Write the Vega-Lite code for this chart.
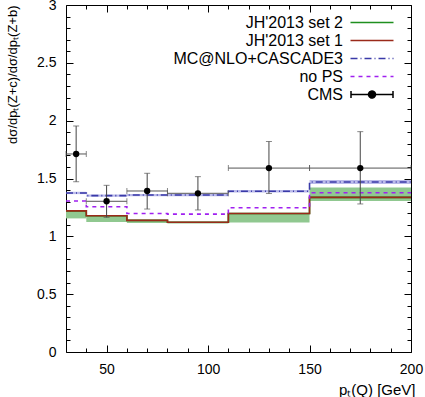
{
  "$schema": "https://vega.github.io/schema/vega-lite/v6.json",
  "width": 345,
  "height": 347,
  "autosize": {"type": "none"},
  "padding": {"left": 66, "top": 5, "right": 14, "bottom": 45},
  "config": {
    "view": {"stroke": "black", "strokeWidth": 1},
    "font": "Liberation Sans",
    "axis": {"grid": false, "domain": false, "labelFont": "Liberation Sans", "labelFontSize": 14, "labelColor": "black", "tickColor": "black", "titleFont": "Liberation Sans", "titleFontSize": 15, "titleFontWeight": "normal", "titleColor": "black", "labelOverlap": false, "labelFlush": false}
  },
  "datasets": {
    "bins": [
      {"series": "JH'2013 set 2", "x1": 30, "x2": 40, "y": 1.22, "lo": 1.155, "hi": 1.22},
      {"series": "JH'2013 set 2", "x1": 40, "x2": 60, "y": 1.178, "lo": 1.124, "hi": 1.178},
      {"series": "JH'2013 set 2", "x1": 60, "x2": 80, "y": 1.138, "lo": 1.115, "hi": 1.14},
      {"series": "JH'2013 set 2", "x1": 80, "x2": 110, "y": 1.122, "lo": 1.11, "hi": 1.125},
      {"series": "JH'2013 set 2", "x1": 110, "x2": 150, "y": 1.198, "lo": 1.12, "hi": 1.198},
      {"series": "JH'2013 set 2", "x1": 150, "x2": 200, "y": 1.337, "lo": 1.305, "hi": 1.423},
      {"series": "JH'2013 set 1", "x1": 30, "x2": 40, "y": 1.22},
      {"series": "JH'2013 set 1", "x1": 40, "x2": 60, "y": 1.178},
      {"series": "JH'2013 set 1", "x1": 60, "x2": 80, "y": 1.138},
      {"series": "JH'2013 set 1", "x1": 80, "x2": 110, "y": 1.122},
      {"series": "JH'2013 set 1", "x1": 110, "x2": 150, "y": 1.198},
      {"series": "JH'2013 set 1", "x1": 150, "x2": 200, "y": 1.337},
      {"series": "MC@NLO+CASCADE3", "x1": 30, "x2": 40, "y": 1.375, "lo": 1.365, "hi": 1.385},
      {"series": "MC@NLO+CASCADE3", "x1": 40, "x2": 60, "y": 1.352, "lo": 1.342, "hi": 1.362},
      {"series": "MC@NLO+CASCADE3", "x1": 60, "x2": 80, "y": 1.357, "lo": 1.347, "hi": 1.367},
      {"series": "MC@NLO+CASCADE3", "x1": 80, "x2": 110, "y": 1.357, "lo": 1.347, "hi": 1.367},
      {"series": "MC@NLO+CASCADE3", "x1": 110, "x2": 150, "y": 1.39, "lo": 1.38, "hi": 1.4},
      {"series": "MC@NLO+CASCADE3", "x1": 150, "x2": 200, "y": 1.47, "lo": 1.452, "hi": 1.487},
      {"series": "no PS", "x1": 30, "x2": 40, "y": 1.305},
      {"series": "no PS", "x1": 40, "x2": 60, "y": 1.256},
      {"series": "no PS", "x1": 60, "x2": 80, "y": 1.198},
      {"series": "no PS", "x1": 80, "x2": 110, "y": 1.192},
      {"series": "no PS", "x1": 110, "x2": 150, "y": 1.247},
      {"series": "no PS", "x1": 150, "x2": 200, "y": 1.377}
    ],
    "cms": [
      {"series": "CMS", "x": 35, "xlo": 30, "xhi": 40, "y": 1.712, "lo": 1.472, "hi": 1.954},
      {"series": "CMS", "x": 50, "xlo": 40, "xhi": 60, "y": 1.303, "lo": 1.164, "hi": 1.441},
      {"series": "CMS", "x": 70, "xlo": 60, "xhi": 80, "y": 1.392, "lo": 1.236, "hi": 1.545},
      {"series": "CMS", "x": 95, "xlo": 80, "xhi": 110, "y": 1.372, "lo": 1.228, "hi": 1.516},
      {"series": "CMS", "x": 130, "xlo": 110, "xhi": 150, "y": 1.59, "lo": 1.37, "hi": 1.82},
      {"series": "CMS", "x": 175, "xlo": 150, "xhi": 200, "y": 1.59, "lo": 1.28, "hi": 1.905}
    ]
  },
  "resolve": {"axis": {"x": "independent", "y": "independent"}},
  "layer": [
    {
      "data": {"name": "bins"},
      "transform": [{"filter": "datum.series === \"JH'2013 set 2\""}],
      "mark": {"type": "rect", "color": "#90c890"},
      "encoding": {
        "x": {"field": "x1", "type": "quantitative", "scale": {"domain": [30, 200], "nice": false, "zero": false},
          "axis": {"orient": "bottom", "values": [40, 50, 60, 70, 80, 90, 100, 110, 120, 130, 140, 150, 160, 170, 180, 190, 200],
            "labelExpr": "datum.value % 50 === 0 ? datum.label : ''",
            "tickSize": {"condition": {"test": "datum.value % 50 === 0", "value": -7}, "value": -4},
            "labelPadding": 17,
            "title": "pₜ(Q) [GeV]", "titleX": 349, "titleY": 42, "titleAlign": "right", "titleBaseline": "alphabetic", "titleAnchor": "end"}},
        "x2": {"field": "x2"},
        "y": {"field": "lo", "type": "quantitative", "scale": {"domain": [0, 3], "nice": false, "zero": false},
          "axis": {"orient": "left", "values": [0, 0.1, 0.2, 0.3, 0.4, 0.5, 0.6, 0.7, 0.8, 0.9, 1, 1.1, 1.2, 1.3, 1.4, 1.5, 1.6, 1.7, 1.8, 1.9, 2, 2.1, 2.2, 2.3, 2.4, 2.5, 2.6, 2.7, 2.8, 2.9, 3],
            "labelExpr": "abs(datum.value*2 - round(datum.value*2)) < 0.000001 ? format(datum.value, '~g') : ''",
            "tickSize": {"condition": {"test": "abs(datum.value*2 - round(datum.value*2)) < 0.000001", "value": -7}, "value": -4},
            "labelPadding": 17,
            "title": "dσ/dpₜ(Z+c)/dσ/dpₜ(Z+b)", "titleFontSize": 13, "titleAngle": 270, "titleX": -54, "titleY": 0, "titleAlign": "right", "titleBaseline": "middle"}},
        "y2": {"field": "hi"}
      }
    },
    {
      "data": {"name": "bins"},
      "transform": [{"filter": "datum.series === 'MC@NLO+CASCADE3'"}],
      "mark": {"type": "rect", "color": "#8c8cdc", "opacity": 0.6},
      "encoding": {
        "x": {"field": "x1", "type": "quantitative", "axis": null},
        "x2": {"field": "x2"},
        "y": {"field": "lo", "type": "quantitative", "axis": null},
        "y2": {"field": "hi"}
      }
    },
    {
      "data": {"name": "bins"},
      "transform": [{"fold": ["x1", "x2"], "as": ["edge", "xe"]}],
      "mark": {"type": "line", "strokeWidth": 1.6},
      "encoding": {
        "x": {"field": "xe", "type": "quantitative", "axis": null},
        "y": {"field": "y", "type": "quantitative", "axis": null},
        "color": {"field": "series", "type": "nominal",
          "scale": {"domain": ["JH'2013 set 2", "JH'2013 set 1", "MC@NLO+CASCADE3", "no PS", "CMS"], "range": ["#1f8f1f", "#9a2a1a", "#3a3aa8", "#a020f0", "black"]},
          "legend": {"title": null, "orient": "none", "legendX": 298, "legendY": 9.5, "labelFont": "Liberation Sans", "labelFontSize": 16, "labelLimit": 300, "labelColor": "black", "labelAlign": "right", "labelOffset": -37, "symbolSize": 100, "symbolStrokeWidth": 1.5, "rowPadding": 2,
            "encode": {"symbols": {"update": {
              "shape": {"signal": "datum.value === 'CMS' ? 'M-4.2,0H4.2M-4.2,-0.7V0.7M4.2,-0.7V0.7M-0.7,0A0.7,0.7,0,1,0,0.7,0A0.7,0.7,0,1,0,-0.7,0Z' : 'M-4.3,0H4.3'"},
              "fill": {"signal": "datum.value === 'CMS' ? 'black' : 'transparent'"}
            }}}}},
        "strokeDash": {"field": "series", "type": "nominal",
          "scale": {"domain": ["JH'2013 set 2", "JH'2013 set 1", "MC@NLO+CASCADE3", "no PS", "CMS"], "range": [[1, 0], [1, 0], [7, 3, 1, 3], [4, 4], [1, 0]]},
          "legend": {"title": null, "orient": "none", "legendX": 298, "legendY": 9.5, "labelFont": "Liberation Sans", "labelFontSize": 16, "labelLimit": 300, "labelColor": "black", "labelAlign": "right", "labelOffset": -37, "symbolSize": 100, "symbolStrokeWidth": 1.5, "rowPadding": 2,
            "encode": {"symbols": {"update": {
              "shape": {"signal": "datum.value === 'CMS' ? 'M-4.2,0H4.2M-4.2,-0.7V0.7M4.2,-0.7V0.7M-0.7,0A0.7,0.7,0,1,0,0.7,0A0.7,0.7,0,1,0,-0.7,0Z' : 'M-4.3,0H4.3'"},
              "fill": {"signal": "datum.value === 'CMS' ? 'black' : 'transparent'"}
            }}}}},
        "order": [{"field": "xe", "type": "quantitative"}, {"field": "edge", "type": "nominal", "sort": "descending"}]
      }
    },
    {
      "data": {"name": "cms"},
      "mark": {"type": "rule", "color": "#444", "strokeWidth": 1},
      "encoding": {
        "x": {"field": "x", "type": "quantitative", "axis": null},
        "y": {"field": "lo", "type": "quantitative", "axis": null},
        "y2": {"field": "hi"}
      }
    },
    {
      "data": {"name": "cms"},
      "mark": {"type": "rule", "color": "#555", "strokeWidth": 1},
      "encoding": {
        "x": {"field": "xlo", "type": "quantitative", "axis": null},
        "x2": {"field": "xhi"},
        "y": {"field": "y", "type": "quantitative", "axis": null}
      }
    },
    {
      "data": {"name": "cms"},
      "mark": {"type": "tick", "orient": "horizontal", "size": 6, "thickness": 1, "color": "#555"},
      "encoding": {
        "x": {"field": "x", "type": "quantitative", "axis": null},
        "y": {"field": "hi", "type": "quantitative", "axis": null}
      }
    },
    {
      "data": {"name": "cms"},
      "mark": {"type": "tick", "orient": "horizontal", "size": 6, "thickness": 1, "color": "#555"},
      "encoding": {
        "x": {"field": "x", "type": "quantitative", "axis": null},
        "y": {"field": "lo", "type": "quantitative", "axis": null}
      }
    },
    {
      "data": {"name": "cms"},
      "mark": {"type": "tick", "orient": "vertical", "size": 6, "thickness": 1, "color": "#555"},
      "encoding": {
        "x": {"field": "xlo", "type": "quantitative", "axis": null},
        "y": {"field": "y", "type": "quantitative", "axis": null}
      }
    },
    {
      "data": {"name": "cms"},
      "mark": {"type": "tick", "orient": "vertical", "size": 6, "thickness": 1, "color": "#555"},
      "encoding": {
        "x": {"field": "xhi", "type": "quantitative", "axis": null},
        "y": {"field": "y", "type": "quantitative", "axis": null}
      }
    },
    {
      "data": {"name": "cms"},
      "mark": {"type": "point", "filled": true, "size": 40, "opacity": 1},
      "encoding": {
        "x": {"field": "x", "type": "quantitative",
          "axis": {"orient": "top", "values": [40, 50, 60, 70, 80, 90, 100, 110, 120, 130, 140, 150, 160, 170, 180, 190, 200], "labels": false, "title": null,
            "tickSize": {"condition": {"test": "datum.value % 50 === 0", "value": -7}, "value": -4}}},
        "y": {"field": "y", "type": "quantitative",
          "axis": {"orient": "right", "values": [0, 0.1, 0.2, 0.3, 0.4, 0.5, 0.6, 0.7, 0.8, 0.9, 1, 1.1, 1.2, 1.3, 1.4, 1.5, 1.6, 1.7, 1.8, 1.9, 2, 2.1, 2.2, 2.3, 2.4, 2.5, 2.6, 2.7, 2.8, 2.9, 3], "labels": false, "title": null,
            "tickSize": {"condition": {"test": "abs(datum.value*2 - round(datum.value*2)) < 0.000001", "value": -7}, "value": -4}}},
        "color": {"field": "series", "type": "nominal"}
      }
    }
  ]
}
